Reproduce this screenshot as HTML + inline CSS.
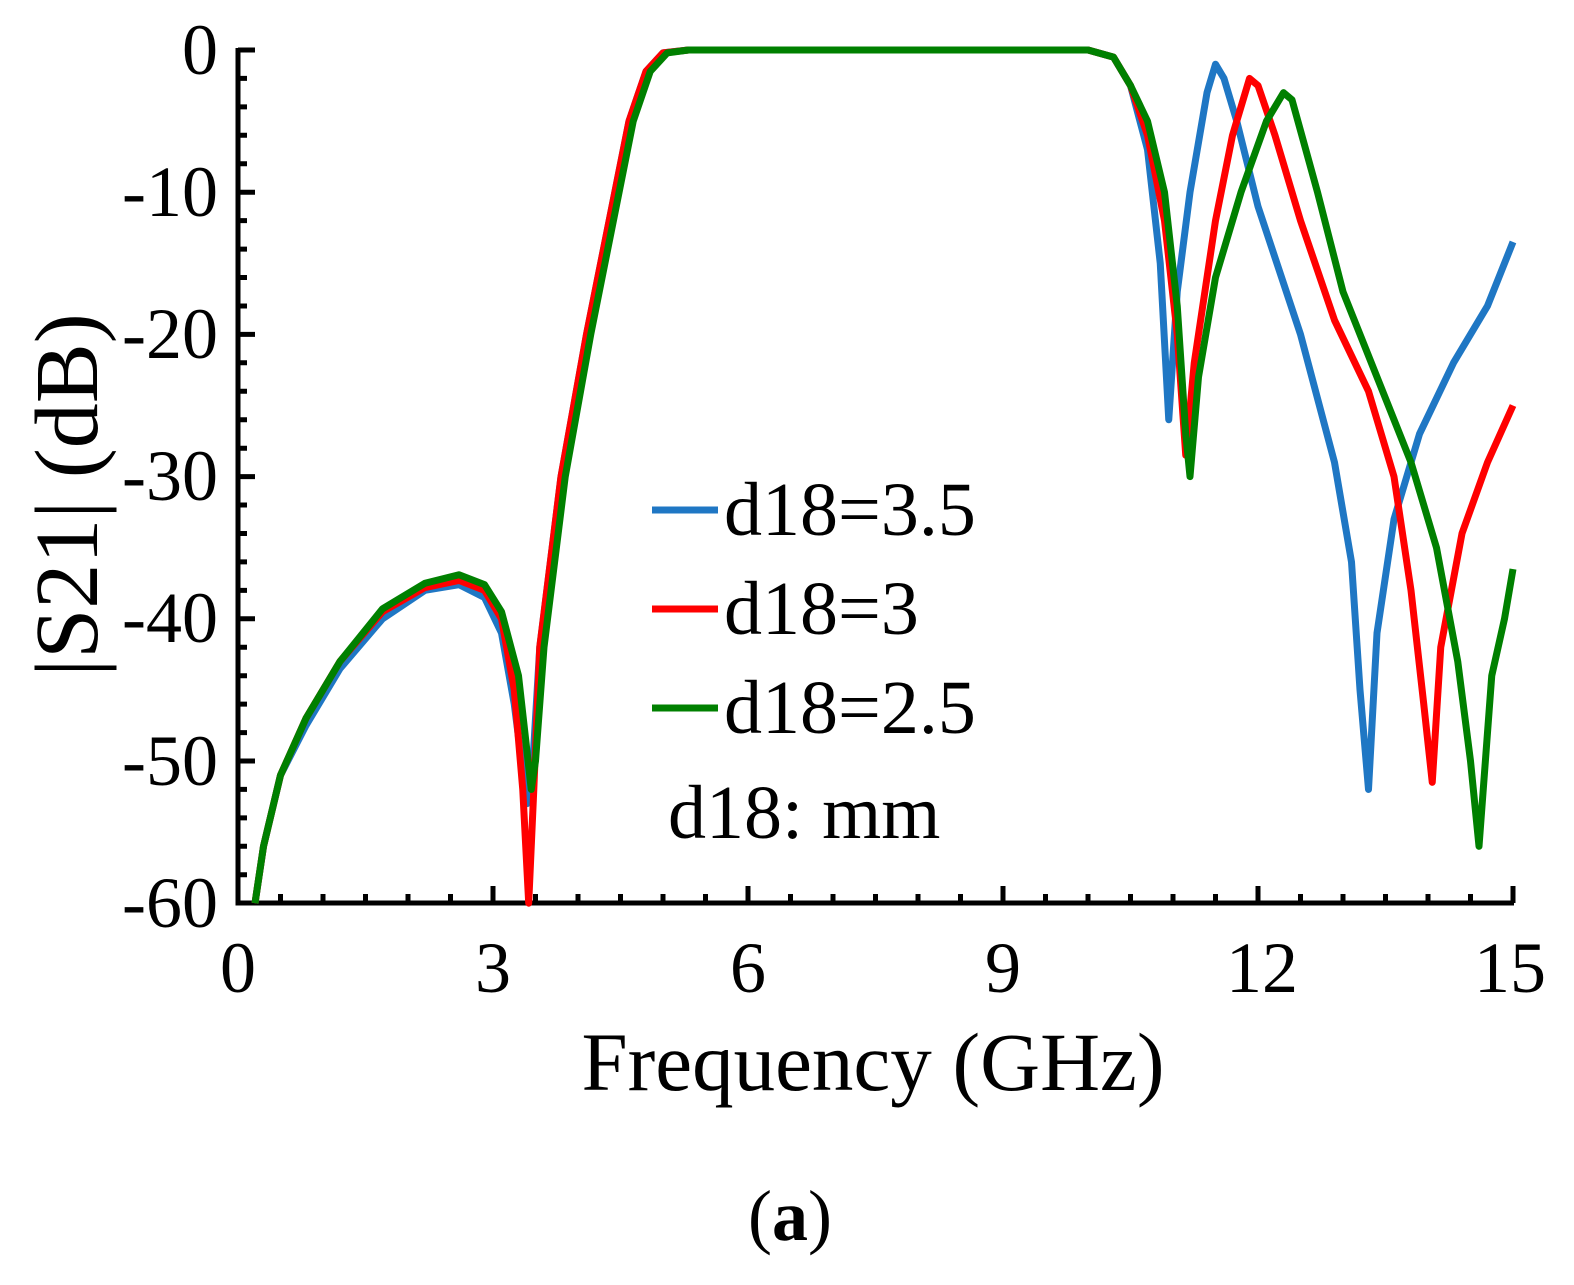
<!DOCTYPE html>
<html><head><style>body{margin:0;background:#fff}</style></head><body>
<svg width="1574" height="1280" viewBox="0 0 1574 1280" xmlns="http://www.w3.org/2000/svg" font-family="Liberation Serif, serif">
<rect width="1574" height="1280" fill="#fff"/>
<g stroke="#000" stroke-width="5" fill="none">
<path d="M238,48 V903 H1514"/>
<path d="M238,50h17M238,78.4h9M238,106.9h9M238,135.3h9M238,163.8h9M238,192.2h17M238,220.6h9M238,249.1h9M238,277.5h9M238,306h9M238,334.4h17M238,362.8h9M238,391.3h9M238,419.7h9M238,448.2h9M238,476.6h17M238,505h9M238,533.5h9M238,561.9h9M238,590.4h9M238,618.8h17M238,647.2h9M238,675.7h9M238,704.1h9M238,732.6h9M238,761h17M238,789.4h9M238,817.9h9M238,846.3h9M238,874.8h9"/>
<path d="M280.5,903v-9M323,903v-9M365.5,903v-9M408,903v-9M450.5,903v-9M493,903v-17M535.5,903v-9M578,903v-9M620.5,903v-9M663,903v-9M705.5,903v-9M748,903v-17M790.5,903v-9M833,903v-9M875.5,903v-9M918,903v-9M960.5,903v-9M1003,903v-17M1045.5,903v-9M1088,903v-9M1130.5,903v-9M1173,903v-9M1215.5,903v-9M1258,903v-17M1300.5,903v-9M1343,903v-9M1385.5,903v-9M1428,903v-9M1470.5,903v-9M1513,903v-17"/>
</g>
<g font-size="72" text-anchor="end" fill="#000">
<text x="218" y="74">0</text><text x="218" y="216">-10</text><text x="218" y="358">-20</text><text x="218" y="500">-30</text><text x="218" y="642">-40</text><text x="218" y="785">-50</text><text x="218" y="927">-60</text>
</g>
<g font-size="72" text-anchor="middle" fill="#000">
<text x="238" y="992">0</text><text x="493" y="992">3</text><text x="748" y="992">6</text><text x="1003" y="992">9</text><text x="1262" y="992">12</text><text x="1510" y="992">15</text>
</g>
<text x="873" y="1090" font-size="83" text-anchor="middle">Frequency (GHz)</text>
<text transform="translate(97,495) rotate(-90)" font-size="90" text-anchor="middle">|S21| (dB)</text>
<text x="790" y="1240" font-size="72" text-anchor="middle">(<tspan font-weight="bold">a</tspan>)</text>
<g transform="translate(238,50) scale(85,-14.22)" fill="none" stroke-width="7" stroke-linejoin="round">
<path vector-effect="non-scaling-stroke" stroke="#1f77c4" d="M0.2,-60 L0.3,-56 0.5,-51 0.8,-47.5 1.2,-43.5 1.7,-40 2.2,-38 2.6,-37.6 2.9,-38.5 3.1,-41 3.25,-46 3.4,-53 3.45,-52 3.55,-42 3.8,-30 4.1,-20 4.4,-11 4.6,-5 4.8,-1.5 5.0,-0.2 5.3,0 10,0 10.3,-0.5 10.5,-2.5 10.7,-7 10.85,-15 10.95,-26 11.05,-17 11.2,-10 11.4,-3 11.5,-1 11.6,-2 11.75,-5 12.0,-11 12.5,-20 12.9,-29 13.1,-36 13.2,-45 13.3,-52 13.4,-41 13.6,-33 13.9,-27 14.3,-22 14.7,-18 15,-13.5"/>
<path vector-effect="non-scaling-stroke" stroke="#ff0000" d="M0.2,-60 L0.3,-56 0.5,-51 0.8,-47 1.2,-43 1.7,-39.5 2.2,-37.8 2.6,-37.3 2.9,-38 3.1,-40 3.25,-45 3.35,-52 3.42,-60 3.48,-52 3.55,-42 3.8,-30 4.1,-20 4.4,-11 4.6,-5 4.8,-1.5 5.0,-0.2 5.3,0 10,0 10.3,-0.5 10.5,-2.5 10.7,-6 10.9,-12 11.05,-20 11.15,-28.5 11.25,-22 11.5,-12 11.7,-6 11.9,-2 12.0,-2.5 12.2,-6 12.5,-12 12.9,-19 13.3,-24 13.6,-30 13.8,-38 13.95,-46 14.05,-51.5 14.15,-42 14.4,-34 14.7,-29 15,-25"/>
<path vector-effect="non-scaling-stroke" stroke="#008000" d="M0.2,-60 L0.3,-56 0.5,-51 0.8,-47 1.2,-43 1.7,-39.3 2.2,-37.5 2.6,-36.9 2.9,-37.6 3.1,-39.5 3.3,-44 3.45,-52 3.5,-50 3.6,-42 3.85,-30 4.15,-20 4.45,-11 4.65,-5 4.85,-1.5 5.05,-0.2 5.3,0 10,0 10.3,-0.5 10.5,-2.5 10.7,-5 10.9,-10 11.05,-18 11.15,-27 11.2,-30 11.3,-23 11.5,-16 11.8,-10 12.1,-5 12.3,-3 12.4,-3.5 12.7,-10 13,-17 13.4,-23 13.8,-29 14.1,-35 14.35,-43 14.5,-50 14.6,-56 14.75,-44 14.9,-40 15,-36.5"/>
</g>
<g stroke-width="7">
<line x1="652" y1="510" x2="718" y2="510" stroke="#1f77c4"/>
<line x1="652" y1="609" x2="718" y2="609" stroke="#ff0000"/>
<line x1="652" y1="708" x2="718" y2="708" stroke="#008000"/>
</g>
<g font-size="76" fill="#000">
<text x="724" y="535">d18=3.5</text>
<text x="724" y="634">d18=3</text>
<text x="724" y="733">d18=2.5</text>
<text x="668" y="838">d18: mm</text>
</g>
</svg>
</body></html>
